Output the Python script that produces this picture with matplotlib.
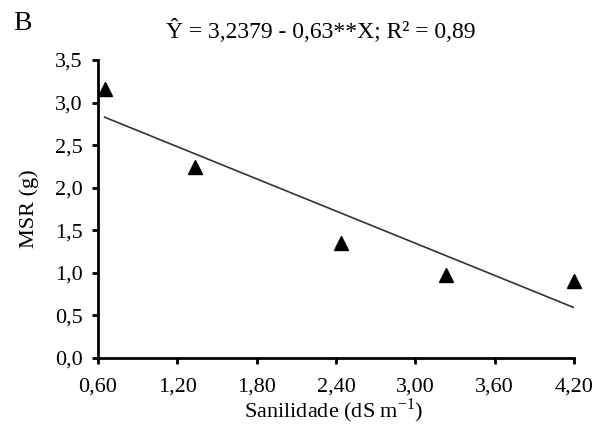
import matplotlib.pyplot as plt
import numpy as np

plt.rcParams['font.family'] = ['Liberation Serif', 'DejaVu Serif']

# observed points
salinity = [0.65, 1.33, 2.44, 3.23, 4.20]
msr = [3.16, 2.24, 1.355, 0.98, 0.905]

# fitted model from the equation in the title
intercept = 3.2379
slope = -0.63

xticks = [0.60, 1.20, 1.80, 2.40, 3.00, 3.60, 4.20]
yticks = [0.0, 0.5, 1.0, 1.5, 2.0, 2.5, 3.0, 3.5]

fig = plt.figure(figsize=(5.98, 4.25), dpi=100)
ax = fig.add_axes([98 / 598, 67 / 425, 476 / 598, 298 / 425])

xfit = np.array([salinity[0], salinity[-1]])
ax.plot(xfit, intercept + slope * xfit, color="#333333", linewidth=1.2)
ax.plot(salinity, msr, linestyle="none", marker="^", color="black",
        markersize=10, clip_on=False)

ax.set_xlim(0.6, 4.2)
ax.set_ylim(0.0, 3.5)
ax.set_xticks(xticks)
ax.set_yticks(yticks)
ax.set_xticklabels([f"{v:.2f}".replace(".", ",") for v in xticks])
ax.set_yticklabels([f"{v:.1f}".replace(".", ",") for v in yticks])

for side in ["top", "right"]:
    ax.spines[side].set_visible(False)
for side in ["left", "bottom"]:
    ax.spines[side].set_linewidth(2)
ax.tick_params(direction="out", length=4, width=2, labelsize=16)
ax.tick_params(axis="x", pad=10)
ax.tick_params(axis="y", pad=7)

ax.set_xlabel("Sanilidade (dS m$^{\\mathregular{-1}}$)", fontsize=16, va="center")
ax.set_ylabel("MSR (g)", fontsize=16, va="center")
ax.xaxis.set_label_coords(0.5 - 2 / 476, -53 / 298)
ax.yaxis.set_label_coords(-69 / 476, 0.5)

fig.text(321 / 598, 1 - 31 / 425, "Ŷ = 3,2379 - 0,63**X; R² = 0,89",
         ha="center", va="center", fontsize=17)
fig.text(13 / 598, 1 - 23 / 425, "B", ha="left", va="center", fontsize=20)

fig.savefig("out.png", dpi=100)
